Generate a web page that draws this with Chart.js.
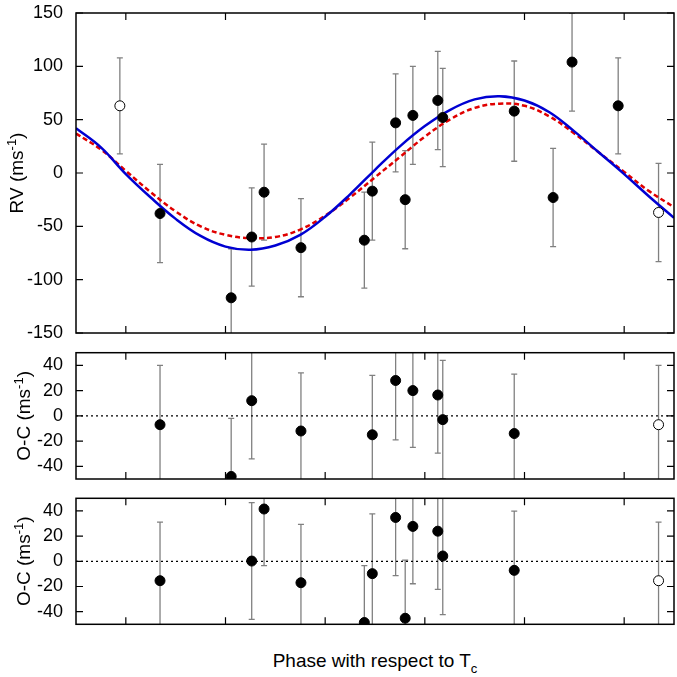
<!DOCTYPE html>
<html>
<head>
<meta charset="utf-8">
<script src="https://cdn.jsdelivr.net/npm/chart.js@4.4.1/dist/chart.umd.min.js"></script>
<style>
  body { margin: 0; background: #fff; }
  #wrap { position: relative; width: 677px; height: 677px; font-family: "Liberation Sans", Arial, sans-serif; }
  canvas { position: absolute; left: 0; }
  #xlabel { position: absolute; left: 76px; width: 598px; top: 652px; text-align: center; font-size: 19px; line-height: 18px; color: #000; }
  #xlabel sub { font-size: 13px; vertical-align: -6px; }
</style>
</head>
<body>
<div id="wrap">
  <canvas id="rv" width="677" height="345" style="top:0"></canvas>
  <canvas id="oc1" width="677" height="150" style="top:340px"></canvas>
  <canvas id="oc2" width="677" height="150" style="top:486px"></canvas>
  <div id="xlabel">Phase with respect to T<sub>c</sub></div>
</div>
<script>
const fontFamily = '"Liberation Sans", Arial, sans-serif';

// phase axis and tick values
const phaseMin = -0.1, phaseMax = 1.1;
const phaseTicks = [0, 0.2, 0.4, 0.6, 0.8, 1.0];
const rvTicks = [-150, -100, -50, 0, 50, 100, 150];
const ocTicks = [-40, -20, 0, 20, 40];

// RV measurements: phase, RV (m/s), 1-sigma error
const obsPhase = [0.0686, 0.2114, 0.2526, 0.2774, 0.3514, 0.4786, 0.4946, 0.5414, 0.5606, 0.576, 0.626, 0.636, 0.7794, 0.8574, 0.8954, 0.988];
const obsRV    = [-38, -117, -60, -18, -70, -63, -17, 47, -25, 54, 68, 52, 58, -23, 104, 63];
const obsErr   = [46, 46, 46, 45, 46, 45, 46, 46, 46, 46, 46, 46, 47, 46, 46, 45];

// same points repeated outside 0..1 (open circles)
const repPhase = [-0.012, 1.069];
const repRV    = [63, -37];
const repErr   = [45, 46];

const curvePhase = [-0.1, -0.05, 0, 0.05, 0.1, 0.15, 0.2, 0.25, 0.3, 0.35, 0.4, 0.45, 0.5, 0.55, 0.6, 0.65, 0.7, 0.75, 0.8, 0.85, 0.9, 0.95, 1.0, 1.05, 1.1];
const fitBlue = [42, 24, -1, -23, -43, -59, -69, -72, -68, -58, -41, -20, 3, 25, 44, 59, 69, 72, 68, 57, 39, 19, -1, -22, -42];
const fitRed  = [37, 22, 2, -18, -36, -50, -58, -61, -60, -53, -40, -23, -4, 15, 34, 50, 61, 65, 63, 53, 37, 19, 1, -17, -32];

// residuals, first model
const oc1Phase = [0.0686, 0.2114, 0.2526, 0.3514, 0.4946, 0.5414, 0.576, 0.626, 0.636, 0.7794];
const oc1Val   = [-7, -48, 12, -12, -15, 28, 20, 16.5, -3, -14];
const oc1Err   = [47, 46, 46, 46, 47, 47, 45, 46, 47, 47];
const oc1RepPhase = [1.069];
const oc1RepVal   = [-7];
const oc1RepErr   = [47];

// residuals, second model
const oc2Phase = [0.0686, 0.2526, 0.2774, 0.3514, 0.4786, 0.4946, 0.5414, 0.5606, 0.576, 0.626, 0.636, 0.7794];
const oc2Val   = [-15.4, 0.2, 41.5, -17, -48.6, -9.8, 34.8, -45.2, 27.7, 23.9, 4.2, -7.2];
const oc2Err   = [46.5, 46.3, 45, 46.3, 45.2, 47.5, 46.2, 46.2, 45.5, 46.2, 46.5, 47.1];
const oc2RepPhase = [1.069];
const oc2RepVal   = [-15.4];
const oc2RepErr   = [46.5];

const zeroLine = [0, 0];

function toXY(xs, ys) {
    return xs.map((x, i) => ({ x: x, y: ys[i] }));
}

// vertical error bars with small caps, under the points
const errorBars = {
    id: 'errorBars',
    beforeDatasetsDraw(chart) {
        const { ctx, chartArea: a, scales: { x, y } } = chart;
        ctx.save();
        ctx.beginPath();
        ctx.rect(a.left, a.top, a.right - a.left, a.bottom - a.top);
        ctx.clip();
        ctx.strokeStyle = '#808080';
        ctx.lineWidth = 1.3;
        chart.data.datasets.forEach(ds => {
            if (!ds.errors) return;
            ds.data.forEach((p, i) => {
                const px = x.getPixelForValue(p.x);
                const y1 = y.getPixelForValue(p.y - ds.errors[i]);
                const y2 = y.getPixelForValue(p.y + ds.errors[i]);
                ctx.beginPath();
                ctx.moveTo(px, y1); ctx.lineTo(px, y2);
                ctx.moveTo(px - 3, y1); ctx.lineTo(px + 3, y1);
                ctx.moveTo(px - 3, y2); ctx.lineTo(px + 3, y2);
                ctx.stroke();
            });
        });
        ctx.restore();
    }
};

// box, inward ticks on all sides, rotated y title with superscript
const frame = {
    id: 'frame',
    afterDraw(chart, args, opts) {
        const { ctx, chartArea: a, scales: { x, y } } = chart;
        ctx.save();
        ctx.strokeStyle = '#000';
        ctx.lineWidth = 1.2;
        ctx.beginPath();
        phaseTicks.forEach(v => {
            const px = x.getPixelForValue(v);
            ctx.moveTo(px, a.top); ctx.lineTo(px, a.top + 7);
            ctx.moveTo(px, a.bottom); ctx.lineTo(px, a.bottom - 7);
        });
        y.ticks.forEach(t => {
            const py = y.getPixelForValue(t.value);
            ctx.moveTo(a.left, py); ctx.lineTo(a.left + 7, py);
            ctx.moveTo(a.right, py); ctx.lineTo(a.right - 7, py);
        });
        ctx.stroke();
        ctx.lineWidth = 1.5;
        ctx.strokeRect(a.left, a.top, a.right - a.left, a.bottom - a.top);

        // y title
        const big = '19px ' + fontFamily, small = '13px ' + fontFamily;
        ctx.fillStyle = '#000';
        ctx.textBaseline = 'alphabetic';
        ctx.font = big;
        const w1 = ctx.measureText(opts.main).width;
        const w3 = ctx.measureText(opts.tail).width;
        ctx.font = small;
        const w2 = ctx.measureText(opts.sup).width;
        const total = w1 + w2 + w3;
        ctx.translate(opts.x, (a.top + a.bottom) / 2);
        ctx.rotate(-Math.PI / 2);
        let cx = -total / 2;
        ctx.font = big;
        ctx.fillText(opts.main, cx, 7);
        cx += w1;
        ctx.font = small;
        ctx.fillText(opts.sup, cx, -0.5);
        cx += w2;
        ctx.font = big;
        ctx.fillText(opts.tail, cx, 7);
        ctx.restore();
    }
};

function yAxis(min, max, ticks) {
    return {
        min: min,
        max: max,
        afterBuildTicks: s => { s.ticks = ticks.map(v => ({ value: v })); },
        afterFit: s => {
            s.width = 76;
            s.paddingTop = 0; s.paddingBottom = 0;
            s.paddingLeft = 0; s.paddingRight = 0;
        },
        grid: { display: false, drawTicks: false },
        border: { display: false },
        ticks: { color: '#000', padding: 13, autoSkip: false, font: { family: fontFamily, size: 18 } }
    };
}

function pointSet(xs, ys, errs, open) {
    return {
        data: toXY(xs, ys),
        errors: errs,
        showLine: false,
        pointRadius: 5,
        pointBorderWidth: 1,
        pointBorderColor: '#000',
        pointBackgroundColor: open ? '#fff' : '#000'
    };
}

function makeChart(id, datasets, yScale, padding, title) {
    return new Chart(document.getElementById(id), {
        type: 'scatter',
        data: { datasets: datasets },
        options: {
            responsive: false,
            animation: false,
            events: [],
            layout: { padding: padding, autoPadding: false },
            scales: {
                x: { type: 'linear', min: phaseMin, max: phaseMax, display: false },
                y: yScale
            },
            plugins: {
                legend: { display: false },
                tooltip: { enabled: false },
                frame: title
            }
        },
        plugins: [errorBars, frame]
    });
}

makeChart('rv', [
    pointSet(obsPhase, obsRV, obsErr, false),
    pointSet(repPhase, repRV, repErr, true),
    { data: toXY(curvePhase, fitBlue), showLine: true, borderColor: '#0000d2', borderWidth: 2.5, pointRadius: 0, tension: 0.4 },
    { data: toXY(curvePhase, fitRed), showLine: true, borderColor: '#e00000', borderWidth: 2.5, borderDash: [5, 3], pointRadius: 0, tension: 0.4 }
], yAxis(-150, 150, rvTicks), { top: 13, bottom: 12, left: 0, right: 3 },
   { main: 'RV (ms', sup: '-1', tail: ')', x: 16 });

makeChart('oc1', [
    pointSet(oc1Phase, oc1Val, oc1Err, false),
    pointSet(oc1RepPhase, oc1RepVal, oc1RepErr, true),
    { data: toXY([phaseMin, phaseMax], zeroLine), showLine: true, borderColor: '#000', borderWidth: 1.2, borderDash: [2, 3], pointRadius: 0 }
], yAxis(-50, 50, ocTicks), { top: 12.7, bottom: 11, left: 0, right: 3 },
   { main: 'O-C (ms', sup: '-1', tail: ')', x: 23 });

makeChart('oc2', [
    pointSet(oc2Phase, oc2Val, oc2Err, false),
    pointSet(oc2RepPhase, oc2RepVal, oc2RepErr, true),
    { data: toXY([phaseMin, phaseMax], zeroLine), showLine: true, borderColor: '#000', borderWidth: 1.2, borderDash: [2, 3], pointRadius: 0 }
], yAxis(-50, 50, ocTicks), { top: 12.3, bottom: 11.7, left: 0, right: 3 },
   { main: 'O-C (ms', sup: '-1', tail: ')', x: 23 });
</script>
</body>
</html>
